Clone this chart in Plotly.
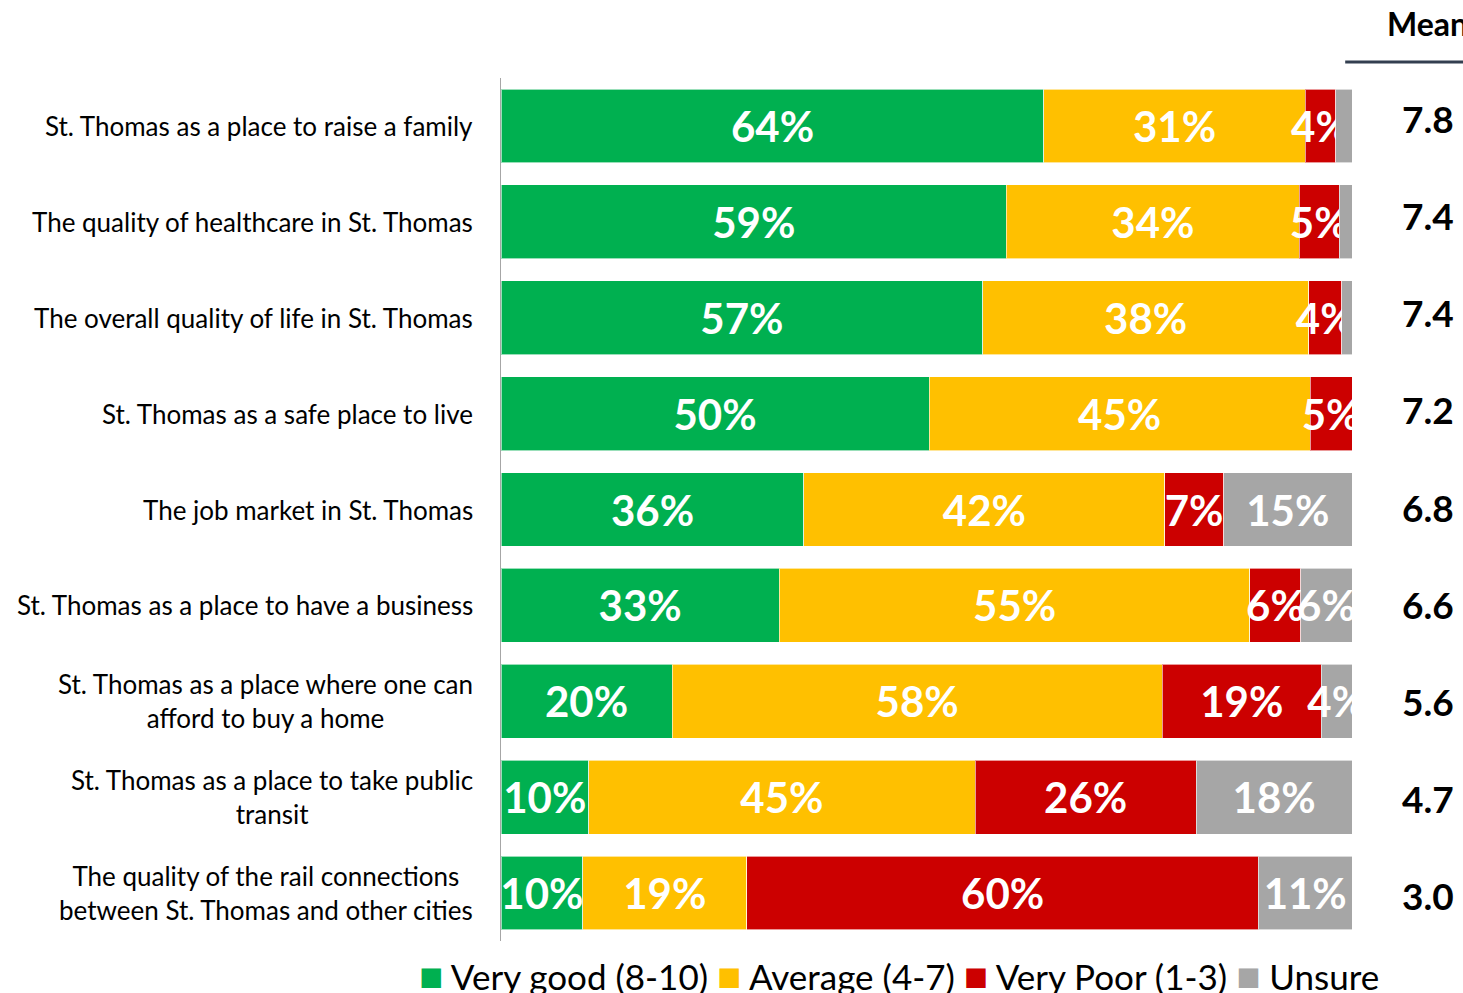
import plotly.graph_objects as go

categories = [
    "St. Thomas as a place to raise a family",
    "The quality of healthcare in St. Thomas",
    "The overall quality of life in St. Thomas",
    "St. Thomas as a safe place to live",
    "The job market in St. Thomas",
    "St. Thomas as a place to have a business",
    "St. Thomas as a place where one can<br>afford to buy a home",
    "St. Thomas as a place to take public<br>transit",
    "The quality of the rail connections<br>between St. Thomas and other cities",
]
very_good = [63.8, 59.4, 56.6, 50.3, 35.6, 32.7, 20.1, 10.3, 9.6]
average = [30.7, 34.4, 38.3, 44.8, 42.4, 55.3, 57.6, 45.4, 19.3]
very_poor = [3.6, 4.7, 3.9, 4.9, 6.9, 6.0, 18.7, 26.0, 60.1]
unsure = [1.9, 1.5, 1.2, 0.0, 15.1, 6.0, 3.6, 18.3, 11.0]
means = ["7.8", "7.4", "7.4", "7.2", "6.8", "6.6", "5.6", "4.7", "3.0"]

series = [
    ("Very good (8-10)", very_good, "#00B050"),
    ("Average (4-7)", average, "#FFC000"),
    ("Very Poor (1-3)", very_poor, "#CC0000"),
    ("Unsure", unsure, "#A6A6A6"),
]

FONT = "Lato"
ids = list(range(len(categories)))

fig = go.Figure()
for name, vals, color in series:
    labels = [f"{round(v)}%" if v >= 2.5 else "" for v in vals]
    fig.add_trace(go.Bar(
        y=ids, x=vals, name=name, orientation="h",
        marker=dict(color=color, line=dict(color="rgba(255,255,255,0.6)", width=1)),
        text=labels, textposition="inside", insidetextanchor="middle",
        textangle=0, constraintext="none", cliponaxis=True,
        textfont=dict(family=FONT, size=42, color="white", weight="bold"),
        hoverinfo="skip", showlegend=False,
    ))

annotations = []
for i, c in enumerate(categories):
    annotations.append(dict(
        x=-0.031, xref="paper", y=i, yref="y", text=c, showarrow=False,
        xanchor="right", yanchor="middle", align="center",
        font=dict(family=FONT, size=26, color="black"),
    ))
for i, m in enumerate(means):
    annotations.append(dict(
        x=1.089, xref="paper", y=i, yref="y", yshift=7 - 1.125 * i, text=m,
        showarrow=False, xanchor="center", yanchor="middle",
        font=dict(family=FONT, size=37, color="black", weight="bold"),
    ))
annotations.append(dict(
    x=1.0388, xref="paper", y=1.063, yref="paper", text="Mean", showarrow=False,
    xanchor="left", yanchor="middle",
    font=dict(family=FONT, size=32, color="black", weight="bold"),
))

legend_text = " ".join(
    f"<span style='color:{color};font-size:40px'>■</span> {name}"
    for name, _, color in series
)
annotations.append(dict(
    x=0.4677, xref="paper", y=-0.0394, yref="paper", text=legend_text,
    showarrow=False, xanchor="center", yanchor="middle",
    font=dict(family=FONT, size=35, color="black"),
))

fig.update_layout(
    width=1463, height=993,
    margin=dict(l=501, r=111, t=78, b=52, autoexpand=False),
    barmode="stack", bargap=0.23,
    plot_bgcolor="white", paper_bgcolor="white",
    showlegend=False,
    annotations=annotations,
    shapes=[dict(type="line", xref="paper", yref="paper",
                 x0=0.992, x1=1.14, y0=1.0185, y1=1.0185,
                 line=dict(color="#333F50", width=3))],
    xaxis=dict(range=[0, 100], visible=False, fixedrange=True),
    yaxis=dict(
        range=[len(categories) - 0.5, -0.5], showticklabels=False,
        showgrid=False, zeroline=False, showline=True,
        linecolor="#A6A6A6", linewidth=1, ticks="", fixedrange=True,
    ),
)

fig.write_html(
    "out.html",
    config={"displayModeBar": False},
    post_script="document.body.style.margin='0';document.body.style.overflow='hidden';",
)
